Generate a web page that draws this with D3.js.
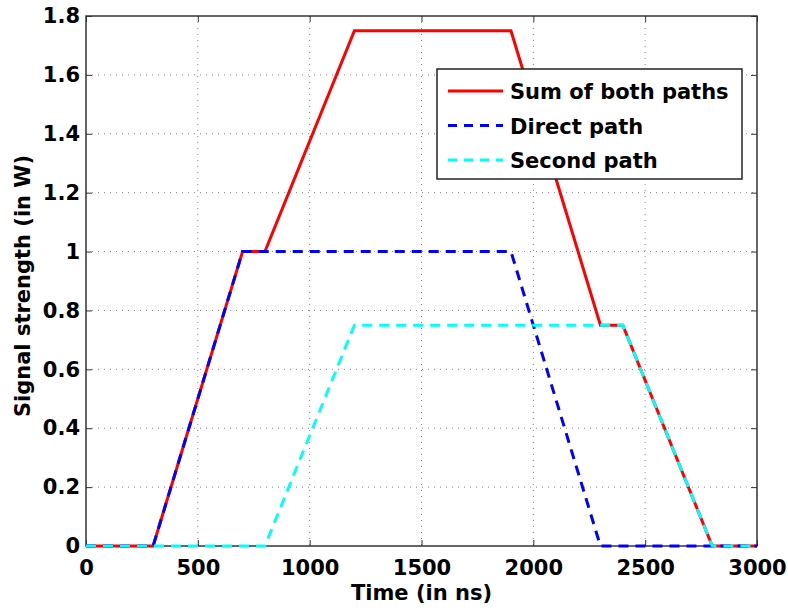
<!DOCTYPE html>
<html lang="en">
<head>
  <meta charset="UTF-8" />
  <title>Signal strength</title>
  <script src="https://cdn.jsdelivr.net/npm/d3@7/dist/d3.min.js"></script>
  <style>
    body { margin: 0; background: #fff; overflow: hidden; }
    svg { display: block; }
    text { font-family: "DejaVu Sans", Arial, sans-serif; font-weight: bold; }
  </style>
</head>
<body>
<svg id="svg"></svg>
<script>
  // time in ns, signal strength in W
  const sumPath = [[0, 0], [300, 0], [700, 1], [800, 1], [1200, 1.75], [1900, 1.75], [2300, 0.75], [2400, 0.75], [2800, 0], [3000, 0]];
  const directPath = [[0, 0], [300, 0], [700, 1], [1900, 1], [2300, 0], [3000, 0]];
  const secondPath = [[0, 0], [800, 0], [1200, 0.75], [2400, 0.75], [2800, 0], [3000, 0]];
  const xTicks = [0, 500, 1000, 1500, 2000, 2500, 3000];
  const yTicks = [0, 0.2, 0.4, 0.6, 0.8, 1, 1.2, 1.4, 1.6, 1.8];

  const width = 788, height = 610;
  const margin = { top: 16, right: 31, bottom: 64, left: 86 };
  const innerWidth = width - margin.left - margin.right;
  const innerHeight = height - margin.top - margin.bottom;

  const svg = d3.select("#svg").attr("width", width).attr("height", height);
  const g = svg.append("g").attr("transform", `translate(${margin.left},${margin.top})`);

  const x = d3.scaleLinear().domain([0, 3000]).range([0, innerWidth]);
  const y = d3.scaleLinear().domain([0, 1.8]).range([innerHeight, 0]);

  // dotted grid
  g.append("g").selectAll("line").data(xTicks.slice(1, -1)).join("line")
    .attr("x1", d => x(d)).attr("x2", d => x(d)).attr("y1", 0).attr("y2", innerHeight)
    .attr("stroke", "#888").attr("stroke-width", 1).attr("stroke-dasharray", "1,5");
  g.append("g").selectAll("line").data(yTicks.slice(1, -1)).join("line")
    .attr("y1", d => y(d)).attr("y2", d => y(d)).attr("x1", 0).attr("x2", innerWidth)
    .attr("stroke", "#888").attr("stroke-width", 1).attr("stroke-dasharray", "1,5");

  // axes, ticks inside, on all four sides
  const styleAxis = sel => {
    sel.select(".domain").remove();
    sel.selectAll(".tick line").attr("stroke", "#333");
    sel.selectAll(".tick text").attr("font-size", 21).attr("fill", "#000");
  };
  const noLabels = sel => { sel.select(".domain").remove(); sel.selectAll(".tick text").remove(); sel.selectAll(".tick line").attr("stroke", "#333"); };
  g.append("g").attr("transform", `translate(0,${innerHeight})`)
    .call(d3.axisBottom(x).tickValues(xTicks).tickFormat(d3.format("d")).tickSizeInner(-6).tickSizeOuter(0).tickPadding(14))
    .call(styleAxis);
  g.append("g")
    .call(d3.axisLeft(y).tickValues(yTicks).tickFormat(d3.format("~g")).tickSizeInner(-6).tickSizeOuter(0).tickPadding(6))
    .call(styleAxis);
  g.append("g")
    .call(d3.axisTop(x).tickValues(xTicks).tickSizeInner(-6).tickSizeOuter(0))
    .call(noLabels);
  g.append("g").attr("transform", `translate(${innerWidth},0)`)
    .call(d3.axisRight(y).tickValues(yTicks).tickSizeInner(-6).tickSizeOuter(0))
    .call(noLabels);

  g.append("rect").attr("width", innerWidth).attr("height", innerHeight)
    .attr("fill", "none").attr("stroke", "#333").attr("stroke-width", 1.5);

  // lines
  const line = d3.line().x(d => x(d[0])).y(d => y(d[1]));
  const series = [
    { name: "Sum of both paths", data: sumPath, color: "#ff0000", dash: null },
    { name: "Direct path", data: directPath, color: "#0000ff", dash: "10,7" },
    { name: "Second path", data: secondPath, color: "#00ffff", dash: "10,7" }
  ];
  series.forEach(s => {
    g.append("path").datum(s.data).attr("d", line)
      .attr("fill", "none").attr("stroke", s.color).attr("stroke-width", 3)
      .attr("stroke-dasharray", s.dash);
  });

  // legend
  const lg = svg.append("g").attr("transform", "translate(437,69)");
  lg.append("rect").attr("width", 305).attr("height", 110)
    .attr("fill", "#fff").attr("stroke", "#222").attr("stroke-width", 1.5);
  series.forEach((s, i) => {
    const ly = 22 + i * 34.5;
    lg.append("line").attr("x1", 11).attr("x2", 66).attr("y1", ly).attr("y2", ly)
      .attr("stroke", s.color).attr("stroke-width", 3).attr("stroke-dasharray", s.dash ? "9,7" : null);
    lg.append("text").attr("x", 73).attr("y", ly + 8).attr("font-size", 21).text(s.name);
  });

  // axis titles
  svg.append("text").attr("x", margin.left + innerWidth / 2).attr("y", 600)
    .attr("text-anchor", "middle").attr("font-size", 21).text("Time (in ns)");
  svg.append("text").attr("transform", "translate(30,286) rotate(-90)")
    .attr("text-anchor", "middle").attr("font-size", 21).text("Signal strength (in W)");
</script>
</body>
</html>
